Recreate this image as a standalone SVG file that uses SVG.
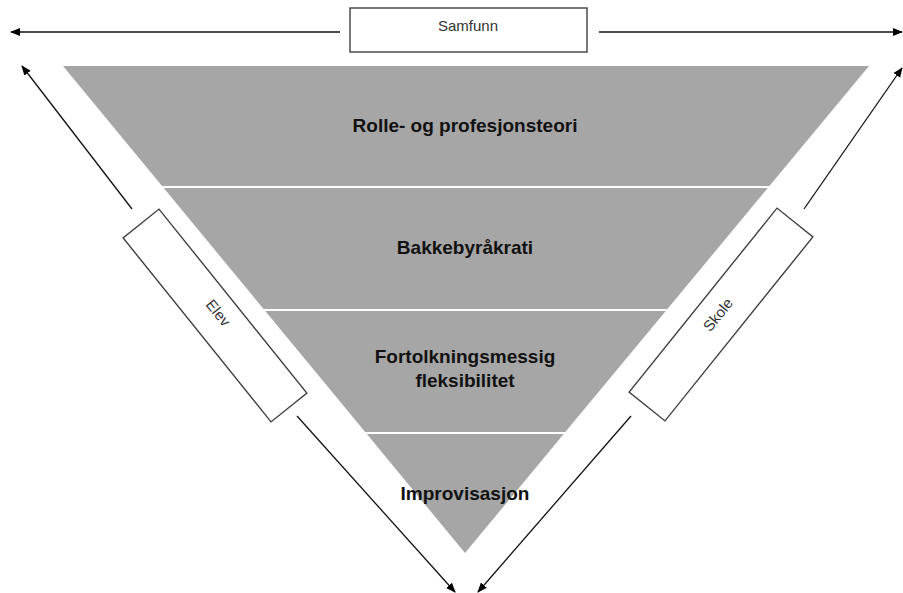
<svg xmlns="http://www.w3.org/2000/svg" width="903" height="593" viewBox="0 0 903 593">
  <defs>
    <marker id="ah" markerUnits="userSpaceOnUse" markerWidth="10" markerHeight="10" viewBox="0 0 10 10" refX="9" refY="5" orient="auto">
      <path d="M0,1 L10,5 L0,9 Z" fill="#000"/>
    </marker>
    <style>
      .band { fill: #a6a6a6; }
      .sep { stroke: #ffffff; stroke-width: 2; }
      .lbl { font-family: "Liberation Sans", Arial, sans-serif; font-weight: bold; font-size: 19px; fill: #111; text-anchor: middle; }
      .box { fill: #ffffff; stroke: #3f3f3f; stroke-width: 1.4; }
      .btxt { font-family: "Liberation Sans", Arial, sans-serif; font-size: 14px; fill: #333; text-anchor: middle; }
      .conn { stroke: #111; stroke-width: 1.3; fill: none; marker-end: url(#ah); }
    </style>
  </defs>
  <rect width="903" height="593" fill="#ffffff"/>

  <g id="band1">
    <polygon class="band" points="63,66 869,66 768.6,187 162.9,187"/>
    <text class="lbl" x="465" y="132">Rolle- og profesjonsteori</text>
  </g>
  <g id="band2">
    <polygon class="band" points="162.9,187 768.6,187 666.6,310 264.4,310"/>
    <text class="lbl" x="465" y="254">Bakkebyråkrati</text>
  </g>
  <g id="band3">
    <polygon class="band" points="264.4,310 666.6,310 564.5,433 366,433"/>
    <text class="lbl" x="465" y="363">Fortolkningsmessig</text>
    <text class="lbl" x="465" y="387">fleksibilitet</text>
  </g>
  <g id="band4">
    <polygon class="band" points="366,433 564.5,433 465,553"/>
    <text class="lbl" x="465" y="500">Improvisasjon</text>
  </g>
  <g id="separators">
    <line class="sep" x1="150" y1="187" x2="780" y2="187"/>
    <line class="sep" x1="250" y1="310" x2="680" y2="310"/>
    <line class="sep" x1="355" y1="433" x2="575" y2="433"/>
  </g>

  <g id="connectors">
    <line class="conn" x1="340" y1="32" x2="11" y2="32"/>
    <line class="conn" x1="599" y1="32" x2="902" y2="32"/>
    <line class="conn" x1="132" y1="209" x2="22" y2="66"/>
    <line class="conn" x1="804" y1="209" x2="902" y2="68"/>
    <line class="conn" x1="297" y1="416" x2="455" y2="592"/>
    <line class="conn" x1="631" y1="416" x2="478" y2="592"/>
  </g>

  <g id="samfunn">
    <rect class="box" x="350" y="8" width="237" height="44"/>
    <text class="btxt" x="468" y="31" style="font-size:15px">Samfunn</text>
  </g>
  <g id="elev" transform="translate(215,315.5) rotate(51.2)">
    <rect class="box" x="-118" y="-23" width="236" height="46"/>
    <text class="btxt" x="0" y="1" style="font-size:15px">Elev</text>
  </g>
  <g id="skole" transform="translate(721,314.5) rotate(-51.2)">
    <rect class="box" x="-118" y="-23" width="236" height="46"/>
    <text class="btxt" x="-2" y="3" style="font-size:15px">Skole</text>
  </g>
</svg>
